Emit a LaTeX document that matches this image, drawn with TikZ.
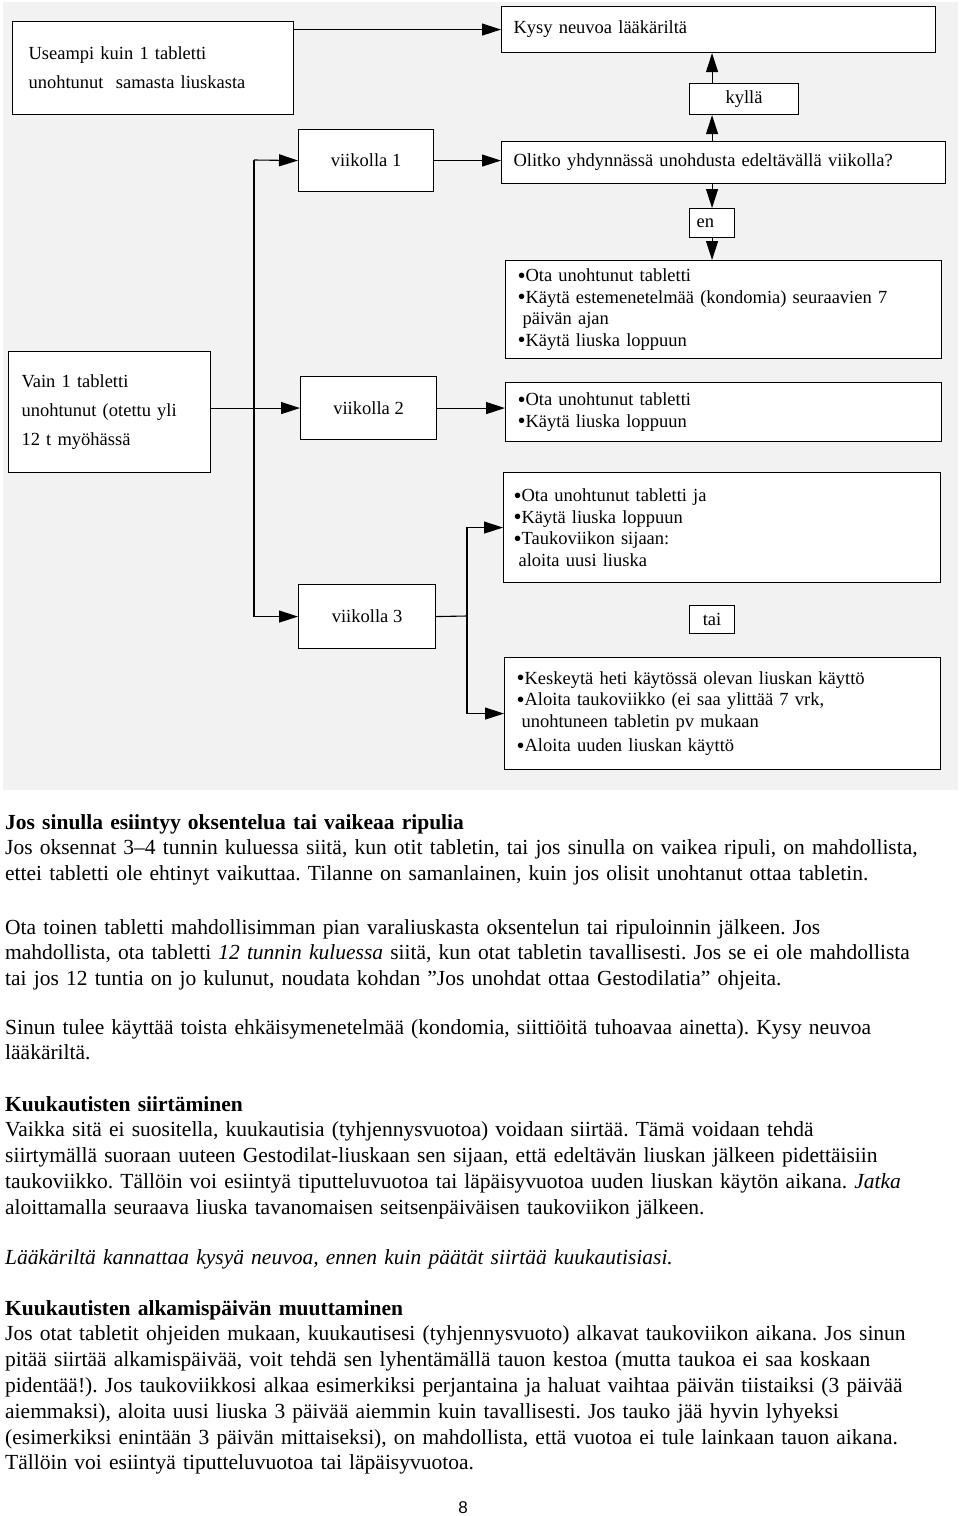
\documentclass[tikz,border=0pt]{standalone}
\usepackage{fontspec}
\setmainfont{Liberation Serif}
\newfontfamily\pagefont{Liberation Sans}
\usetikzlibrary{arrows.meta}
\definecolor{panel}{HTML}{F2F2F2}
\newcommand{\boxfont}{\fontsize{18.5}{21.5}\selectfont}
\newcommand{\widefont}{\fontsize{18.5}{29}\selectfont}
\newcommand{\bodyfont}{\fontsize{21.5}{25.8}\selectfont}
\newcommand{\bul}{{\fontsize{23}{23}\selectfont\raisebox{-1.6pt}{•}}}

\begin{document}
\frenchspacing
\begin{tikzpicture}[x=1pt, y=-1pt,
    box/.style={draw, line width=1.1pt, fill=white, anchor=north west, inner sep=0pt, font=\boxfont},
    arr/.style={line width=1.1pt, -{Triangle[length=19pt, width=12pt]}},
    conn/.style={line width=1.1pt},
    body/.style={anchor=base west, inner sep=0pt, align=left, text width=1000pt, font=\bodyfont}]
    \useasboundingbox (0,0) rectangle (960,1516);
    % background panel
    \fill[panel] (3,2) rectangle (958,790);

    % Left column
    \node[box, minimum width=281, minimum height=93, text width=249, align=left, font=\widefont] (useampi) at (12,21)
        {Useampi kuin 1 tabletti\\ unohtunut\ \ samasta liuskasta\par\vspace*{16pt}};
    \node[box, minimum width=202, minimum height=121, text width=176, align=left, font=\widefont] (vain) at (8,351)
        {Vain 1 tabletti\\ unohtunut (otettu yli\\ 12 t myöhässä\par\vspace*{16pt}};

    % Weeks
    \node[box, minimum width=135, minimum height=62] (v1) at (298,129) {viikolla 1};
    \node[box, minimum width=136, minimum height=63] (v2) at (300,376) {viikolla 2};
    \node[box, minimum width=137, minimum height=64] (v3) at (298,584) {viikolla 3};

    % Question and answers
    \node[box, minimum width=434, minimum height=46, text width=410, align=left] (kysy) at (501,6) {Kysy neuvoa lääkäriltä};
    \node[box, minimum width=109, minimum height=31] (kylla) at (689,83) {kyllä};
    \node[box, minimum width=444, minimum height=42, text width=420, align=left] (olitko) at (501,141)
        {Olitko yhdynnässä unohdusta edeltävällä viikolla?};
    \node[box, minimum width=45, minimum height=29, text width=31, align=left] (en) at (689,208) {en};
    \node[box, minimum width=45, minimum height=28] (tai) at (689,605) {tai};

    % Instructions
    \node[box, minimum width=436, minimum height=98, text width=412, align=left] (ohje1) at (505,260)
        {\bul Ota unohtunut tabletti\\ \bul Käytä estemenetelmää (kondomia) seuraavien 7\\ \hspace*{5pt}päivän ajan\\ \bul Käytä liuska loppuun};
    \node[box, minimum width=436, minimum height=59, text width=412, align=left] (ohje2) at (505,382)
        {\bul Ota unohtunut tabletti\\ \bul Käytä liuska loppuun};
    \node[box, minimum width=437, minimum height=110, text width=417, align=left] (ohje3) at (503,472)
        {\bul Ota unohtunut tabletti ja\\ \bul Käytä liuska loppuun\\ \bul Taukoviikon sijaan:\\ \hspace*{5pt}aloita uusi liuska};
    \node[box, minimum width=436, minimum height=112, text width=412, align=left] (ohje4) at (504,657)
        {\bul Keskeytä heti käytössä olevan liuskan käyttö\\ \bul Aloita taukoviikko (ei saa ylittää 7 vrk,\\ \hspace*{5pt}unohtuneen tabletin pv mukaan\\[3pt] \bul Aloita uuden liuskan käyttö};

    % Arrows
    \draw[arr] (kysy.west -| useampi.east) -- (kysy.west);
    \draw[arr] (olitko.north -| en) -- (kylla.south -| en);
    \draw[arr] (kylla.north -| en) -- (kysy.south -| en);
    \draw[arr] (v1.east) -- (v1.east -| olitko.west);
    \draw[arr] (olitko.south -| en) -- (en.north);
    \draw[arr] (en.south) -- (ohje1.north -| en);
    \coordinate (trunk) at (254,160);
    \draw[arr] (trunk) -- (v1.west);
    \draw[arr] (trunk) |- (v3.west);
    \draw[arr] (vain.east |- v2.west) -- (v2.west);
    \draw[arr] (v2.east) -- (v2.east -| ohje2.west);
    \coordinate (split) at (467,616);
    \draw[conn] (v3.east) -- (split);
    \draw[arr] (split) |- (ohje3.west);
    \draw[arr] (split) |- (ohje4.west);

    % Text below
    \node[body] (vomit) at (5,829)
        {\textbf{Jos sinulla esiintyy oksentelua tai vaikeaa ripulia}\\
        Jos oksennat 3–4 tunnin kuluessa siitä, kun otit tabletin, tai jos sinulla on vaikea ripuli, on mahdollista,\\
        ettei tabletti ole ehtinyt vaikuttaa. Tilanne on samanlainen, kuin jos olisit unohtanut ottaa tabletin.};
    \node[body] (spare) at (5,934)
        {Ota toinen tabletti mahdollisimman pian varaliuskasta oksentelun tai ripuloinnin jälkeen. Jos\\
        mahdollista, ota tabletti \textit{12 tunnin kuluessa} siitä, kun otat tabletin tavallisesti. Jos se ei ole mahdollista\\
        tai jos 12 tuntia on jo kulunut, noudata kohdan ”Jos unohdat ottaa Gestodilatia” ohjeita.};
    \node[body] (backup) at (5,1034)
        {Sinun tulee käyttää toista ehkäisymenetelmää (kondomia, siittiöitä tuhoavaa ainetta). Kysy neuvoa\\
        lääkäriltä.};
    \node[body] (shift) at (5,1111)
        {\textbf{Kuukautisten siirtäminen}\\
        Vaikka sitä ei suositella, kuukautisia (tyhjennysvuotoa) voidaan siirtää. Tämä voidaan tehdä\\
        siirtymällä suoraan uuteen Gestodilat-liuskaan sen sijaan, että edeltävän liuskan jälkeen pidettäisiin\\
        taukoviikko. Tällöin voi esiintyä tiputteluvuotoa tai läpäisyvuotoa uuden liuskan käytön aikana. \textit{Jatka}\\
        aloittamalla seuraava liuska tavanomaisen seitsenpäiväisen taukoviikon jälkeen.};
    \node[body] (advice) at (5,1264)
        {\textit{Lääkäriltä kannattaa kysyä neuvoa, ennen kuin päätät siirtää kuukautisiasi.}};
    \node[body] (startday) at (5,1315)
        {\textbf{Kuukautisten alkamispäivän muuttaminen}\\
        Jos otat tabletit ohjeiden mukaan, kuukautisesi (tyhjennysvuoto) alkavat taukoviikon aikana. Jos sinun\\
        pitää siirtää alkamispäivää, voit tehdä sen lyhentämällä tauon kestoa (mutta taukoa ei saa koskaan\\
        pidentää!). Jos taukoviikkosi alkaa esimerkiksi perjantaina ja haluat vaihtaa päivän tiistaiksi (3 päivää\\
        aiemmaksi), aloita uusi liuska 3 päivää aiemmin kuin tavallisesti. Jos tauko jää hyvin lyhyeksi\\
        (esimerkiksi enintään 3 päivän mittaiseksi), on mahdollista, että vuotoa ei tule lainkaan tauon aikana.\\
        Tällöin voi esiintyä tiputteluvuotoa tai läpäisyvuotoa.};

    % Page number
    \node[inner sep=0pt, font=\pagefont\fontsize{17}{17}\selectfont] (pagenum) at (463,1508) {8};
\end{tikzpicture}
\end{document}
